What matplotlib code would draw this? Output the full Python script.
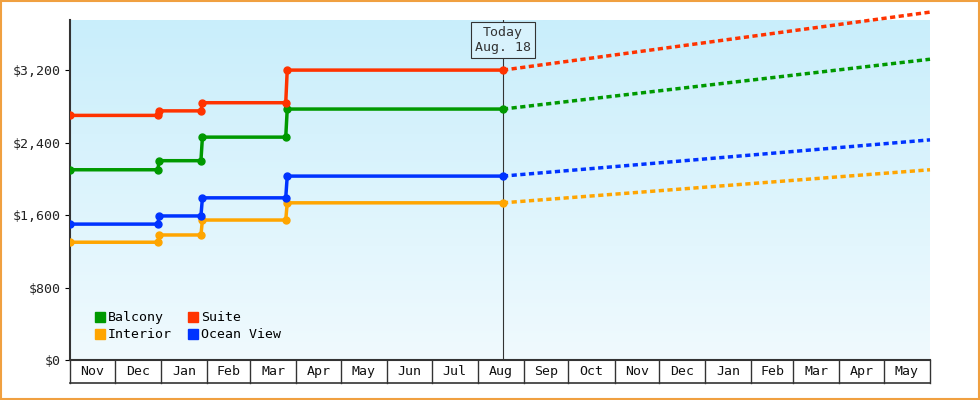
import matplotlib
matplotlib.use("Agg")
import matplotlib.pyplot as plt
import matplotlib.dates as mdates
import numpy as np
from datetime import date
import matplotlib.transforms as mtrans
from matplotlib.colors import LinearSegmentedColormap
from matplotlib.patches import Patch

step_dates = [date(2023,11,1), date(2023,12,30), date(2023,12,31), date(2024,1,28), date(2024,1,29), date(2024,3,25), date(2024,3,26), date(2024,8,18)]
balcony = [2100, 2100, 2200, 2200, 2460, 2460, 2770, 2770]
suite = [2700, 2700, 2750, 2750, 2840, 2840, 3200, 3200]
ocean = [1500, 1500, 1590, 1590, 1790, 1790, 2030, 2030]
interior = [1300, 1300, 1380, 1380, 1545, 1545, 1735, 1735]
proj_dates = [date(2024,8,18), date(2025,6,1)]
balcony_proj = [2770, 3320]
suite_proj = [3200, 3840]
ocean_proj = [2030, 2430]
interior_proj = [1735, 2100]
month_labels = ["Nov","Dec","Jan","Feb","Mar","Apr","May","Jun","Jul","Aug","Sep","Oct","Nov","Dec","Jan","Feb","Mar","Apr","May"]
yticks = [0, 800, 1600, 2400, 3200]

plt.rcParams['font.family'] = ['DejaVu Sans Mono']
fig = plt.figure(figsize=(9.8, 4), dpi=100)
ax = fig.add_axes([70/980, 40/400, 860/980, 340/400])
x0, x1 = mdates.date2num(date(2023,11,1)), mdates.date2num(date(2025,6,1))
ax.set_xlim(x0, x1)
ax.set_ylim(0, 3753)
grad = np.linspace(0, 1, 256).reshape(-1, 1)
cm = LinearSegmentedColormap.from_list("g", ["#f0fafe", "#c9eefb"])
ax.imshow(grad, aspect='auto', cmap=cm, origin='lower', extent=[x0, x1, 0, 3753], zorder=0)

series = [(balcony, balcony_proj, "#009900", "Balcony"), (suite, suite_proj, "#ff3300", "Suite"),
          (interior, interior_proj, "#ffa500", "Interior"), (ocean, ocean_proj, "#0033ff", "Ocean View")]
sd = mdates.date2num(step_dates); pd_ = mdates.date2num(proj_dates)
for vals, proj, c, lab in series:
    ax.plot(sd, vals, color=c, lw=2.5, marker='o', ms=5, zorder=3)
    ax.plot(pd_, proj, color=c, lw=2.5, ls=(0, (1.5, 1)), zorder=3, clip_on=False)

today = mdates.date2num(date(2024,8,18))
ax.axvline(today, color="#333333", lw=0.8, zorder=2)
ax.text(today, 3530, "Today\nAug. 18", ha='center', va='center', fontsize=9.5, color="#333333",
        bbox=dict(boxstyle='square,pad=0.3', fc='#d8f2fc', ec='#333333', lw=0.8), zorder=5)

ax.set_yticks(yticks)
ax.set_yticklabels([f"${v:,}" for v in yticks], fontsize=9.5, color="#222222")
ax.set_xticks([])
for s in ['top', 'right']:
    ax.spines[s].set_visible(False)
ax.spines['left'].set_linewidth(1.5); ax.spines['bottom'].set_linewidth(1.5)
ax.spines['left'].set_color('#333333'); ax.spines['bottom'].set_color('#333333')

bounds = [date(2023 + (10 + i) // 12, (10 + i) % 12 + 1, 1) for i in range(20)]
bn = mdates.date2num(bounds)
tr = mtrans.blended_transform_factory(ax.transData, ax.transAxes)
cell_h = 23/340
for b in bn:
    ax.plot([b, b], [0, -cell_h], transform=tr, color='#333333', lw=1, clip_on=False)
ax.plot([x0, x1], [-cell_h, -cell_h], transform=tr, color='#333333', lw=1.2, clip_on=False)
for i, lab in enumerate(month_labels):
    ax.text((bn[i] + bn[i+1]) / 2, -cell_h/2, lab, transform=tr, ha='center', va='center', fontsize=9.5, color='#111111')

order = [0, 2, 1, 3]
handles = [Patch(color=series[i][2]) for i in order]
ax.legend(handles, [series[i][3] for i in order], ncol=2, loc='lower left', bbox_to_anchor=(0.015, 0.02),
          frameon=False, fontsize=9.5, handlelength=0.8, handleheight=0.8, handletextpad=0.2,
          columnspacing=1.2, labelspacing=0.3)

fig.patches.append(plt.Rectangle((0.001, 0.002), 0.998, 0.996, transform=fig.transFigure,
                                 fill=False, ec='#f0a040', lw=1.5))
fig.savefig("out.png", dpi=100)
